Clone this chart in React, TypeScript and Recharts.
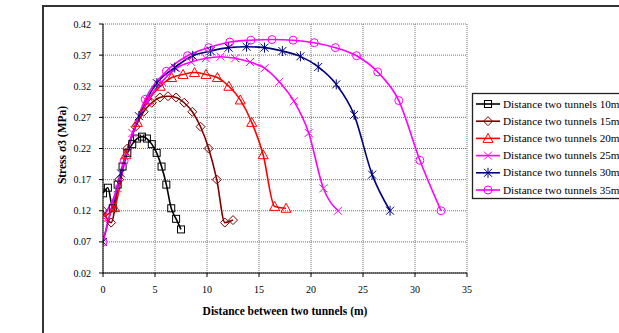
import React from 'react';
import { LineChart, Line, XAxis, YAxis, CartesianGrid } from 'recharts';

const xTicks = [0, 5, 10, 15, 20, 25, 30, 35];
const yTicks = [0.02, 0.07, 0.12, 0.17, 0.22, 0.27, 0.32, 0.37, 0.42];

const names = [
  'Distance two tunnels 10m',
  'Distance two tunnels 15m',
  'Distance two tunnels 20m',
  'Distance two tunnels 25m',
  'Distance two tunnels 30m',
  'Distance two tunnels 35m',
];

const x10 = [0, 0.47, 0.94, 1.41, 1.88, 2.34, 2.81, 3.28, 3.75, 4.22, 4.69, 5.16, 5.63, 6.09, 6.56, 7.03, 7.5];
const y10 = [0.148, 0.157, 0.124, 0.162, 0.191, 0.213, 0.227, 0.236, 0.239, 0.236, 0.227, 0.213, 0.191, 0.162, 0.124, 0.107, 0.09];

const x15 = [0, 0.78, 1.56, 2.34, 3.13, 3.91, 4.69, 5.47, 6.25, 7.03, 7.81, 8.59, 9.38, 10.16, 10.94, 11.72, 12.5];
const y15 = [0.12, 0.101, 0.17, 0.22, 0.255, 0.279, 0.2935, 0.302, 0.304, 0.302, 0.2935, 0.279, 0.255, 0.22, 0.17, 0.101, 0.105];

const x20 = [0, 1.1, 2.2, 3.3, 4.4, 5.5, 6.6, 7.7, 8.8, 9.9, 11, 12.1, 13.2, 14.3, 15.4, 16.5, 17.6];
const y20 = [0.11, 0.125, 0.21, 0.262, 0.298, 0.32, 0.334, 0.339, 0.342, 0.339, 0.334, 0.32, 0.298, 0.262, 0.21, 0.127, 0.124];

const x25 = [0, 1.41, 2.83, 4.24, 5.65, 7.06, 8.48, 9.89, 11.3, 12.71, 14.13, 15.54, 16.95, 18.36, 19.78, 21.19, 22.6];
const y25 = [0.11, 0.156, 0.245, 0.296, 0.327, 0.349, 0.359, 0.365, 0.3675, 0.365, 0.359, 0.349, 0.327, 0.296, 0.245, 0.156, 0.12];

const x30 = [0, 1.73, 3.45, 5.18, 6.9, 8.63, 10.35, 12.08, 13.8, 15.53, 17.25, 18.98, 20.7, 22.43, 24.15, 25.88, 27.6];
const y30 = [0.07, 0.18, 0.272, 0.325, 0.35, 0.369, 0.3766, 0.382, 0.3835, 0.382, 0.3766, 0.368, 0.351, 0.323, 0.274, 0.178, 0.12];

const x35 = [0, 2.03, 4.06, 6.09, 8.13, 10.16, 12.19, 14.22, 16.25, 18.28, 20.31, 22.34, 24.38, 26.41, 28.44, 30.47, 32.5];
const y35 = [0.07, 0.2, 0.299, 0.344, 0.369, 0.382, 0.391, 0.394, 0.395, 0.394, 0.39, 0.382, 0.369, 0.343, 0.297, 0.201, 0.12];

const colors = ['#000000', '#800000', '#FF0000', '#FF00FF', '#000080', '#FF00FF'];
const markers = ['square', 'diamond', 'triangle', 'x', 'star', 'circle'];

const xs = [x10, x15, x20, x25, x30, x35];
const ys = [y10, y15, y20, y25, y30, y35];

const seriesData = xs.map((xa, i) => xa.map((x, j) => ({ x, y: ys[i][j] })));

const FONT = "'Liberation Serif', 'Times New Roman', serif";

function marker(kind: string, cx: number, cy: number, color: string, key?: any) {
  const common = { fill: 'none', stroke: color, strokeWidth: 1 };
  switch (kind) {
    case 'square':
      return <rect key={key} x={cx - 3.5} y={cy - 3.5} width={7} height={7} {...common} />;
    case 'diamond':
      return <path key={key} d={`M${cx},${cy - 4.5}L${cx + 4.5},${cy}L${cx},${cy + 4.5}L${cx - 4.5},${cy}Z`} {...common} />;
    case 'triangle':
      return <path key={key} d={`M${cx},${cy - 5}L${cx + 5},${cy + 4}L${cx - 5},${cy + 4}Z`} {...common} />;
    case 'x':
      return <path key={key} d={`M${cx - 4},${cy - 4}L${cx + 4},${cy + 4}M${cx + 4},${cy - 4}L${cx - 4},${cy + 4}`} {...common} />;
    case 'star':
      return <path key={key} d={`M${cx - 4},${cy - 4}L${cx + 4},${cy + 4}M${cx + 4},${cy - 4}L${cx - 4},${cy + 4}M${cx},${cy - 5}L${cx},${cy + 5}`} {...common} />;
    default:
      return <circle key={key} cx={cx} cy={cy} r={4} {...common} />;
  }
}

export default function App() {
  return (
    <div style={{ position: 'absolute', left: 0, top: 0, width: 619, height: 333, overflow: 'hidden', background: '#fff' }}>
      <div style={{ position: 'absolute', left: 42, top: 5, width: 700, height: 400, border: '2px solid #333', boxSizing: 'border-box' }} />
      <div style={{ position: 'absolute', left: 0, top: 0 }}>
        <LineChart width={619} height={333} margin={{ top: 24, right: 152, bottom: 30, left: 43 }}>
          <CartesianGrid stroke="#707070" strokeDasharray="1 1" />
          <XAxis
            type="number"
            dataKey="x"
            domain={[0, 35]}
            ticks={xTicks}
            allowDataOverflow
            height={30}
            stroke="#000"
            tickSize={4}
            tickMargin={9}
            tick={{ fontSize: 10, fill: '#000', fontFamily: FONT }}
            label={{
              content: () => (
                <text x={285} y={315} textAnchor="middle" fontSize={11.5} fontWeight="bold" fontFamily={FONT} fill="#000">
                  Distance between two tunnels (m)
                </text>
              ),
            }}
          />
          <YAxis
            type="number"
            dataKey="y"
            domain={[0.02, 0.42]}
            ticks={yTicks}
            allowDataOverflow
            width={60}
            stroke="#000"
            tickSize={4}
            tickMargin={8}
            tickFormatter={(v: number) => v.toFixed(2)}
            tick={{ fontSize: 10, fill: '#000', fontFamily: FONT }}
            label={{
              content: () => (
                <text x={0} y={0} transform="translate(65.5,145) rotate(-90)" textAnchor="middle" fontSize={11.5} fontWeight="bold" fontFamily={FONT} fill="#000">
                  Stress σ3 (MPa)
                </text>
              ),
            }}
          />
          {seriesData.map((d, i) => (
            <Line
              key={names[i]}
              data={d}
              dataKey="y"
              name={names[i]}
              type="monotone"
              stroke={colors[i]}
              strokeWidth={1.6}
              isAnimationActive={false}
              dot={(p: any) => marker(markers[i], p.cx, p.cy, colors[i], `${i}-${p.index}`)}
              activeDot={false}
            />
          ))}
        </LineChart>
      </div>
      <svg width={619} height={333} style={{ position: 'absolute', left: 0, top: 0, pointerEvents: 'none' }}>
        <rect x={472.5} y={93.5} width={170} height={105} fill="#fff" stroke="#222" strokeWidth={1.3} />
        {names.map((n, i) => {
          const cy = 104 + i * 17.2;
          return (
            <g key={n}>
              <line x1={476} x2={500} y1={cy} y2={cy} stroke={colors[i]} strokeWidth={1.6} />
              {marker(markers[i], 488, cy, colors[i])}
              <text x={503} y={cy + 3.6} fontSize={11.2} fontFamily={FONT} fill="#000">{n}</text>
            </g>
          );
        })}
      </svg>
    </div>
  );
}
